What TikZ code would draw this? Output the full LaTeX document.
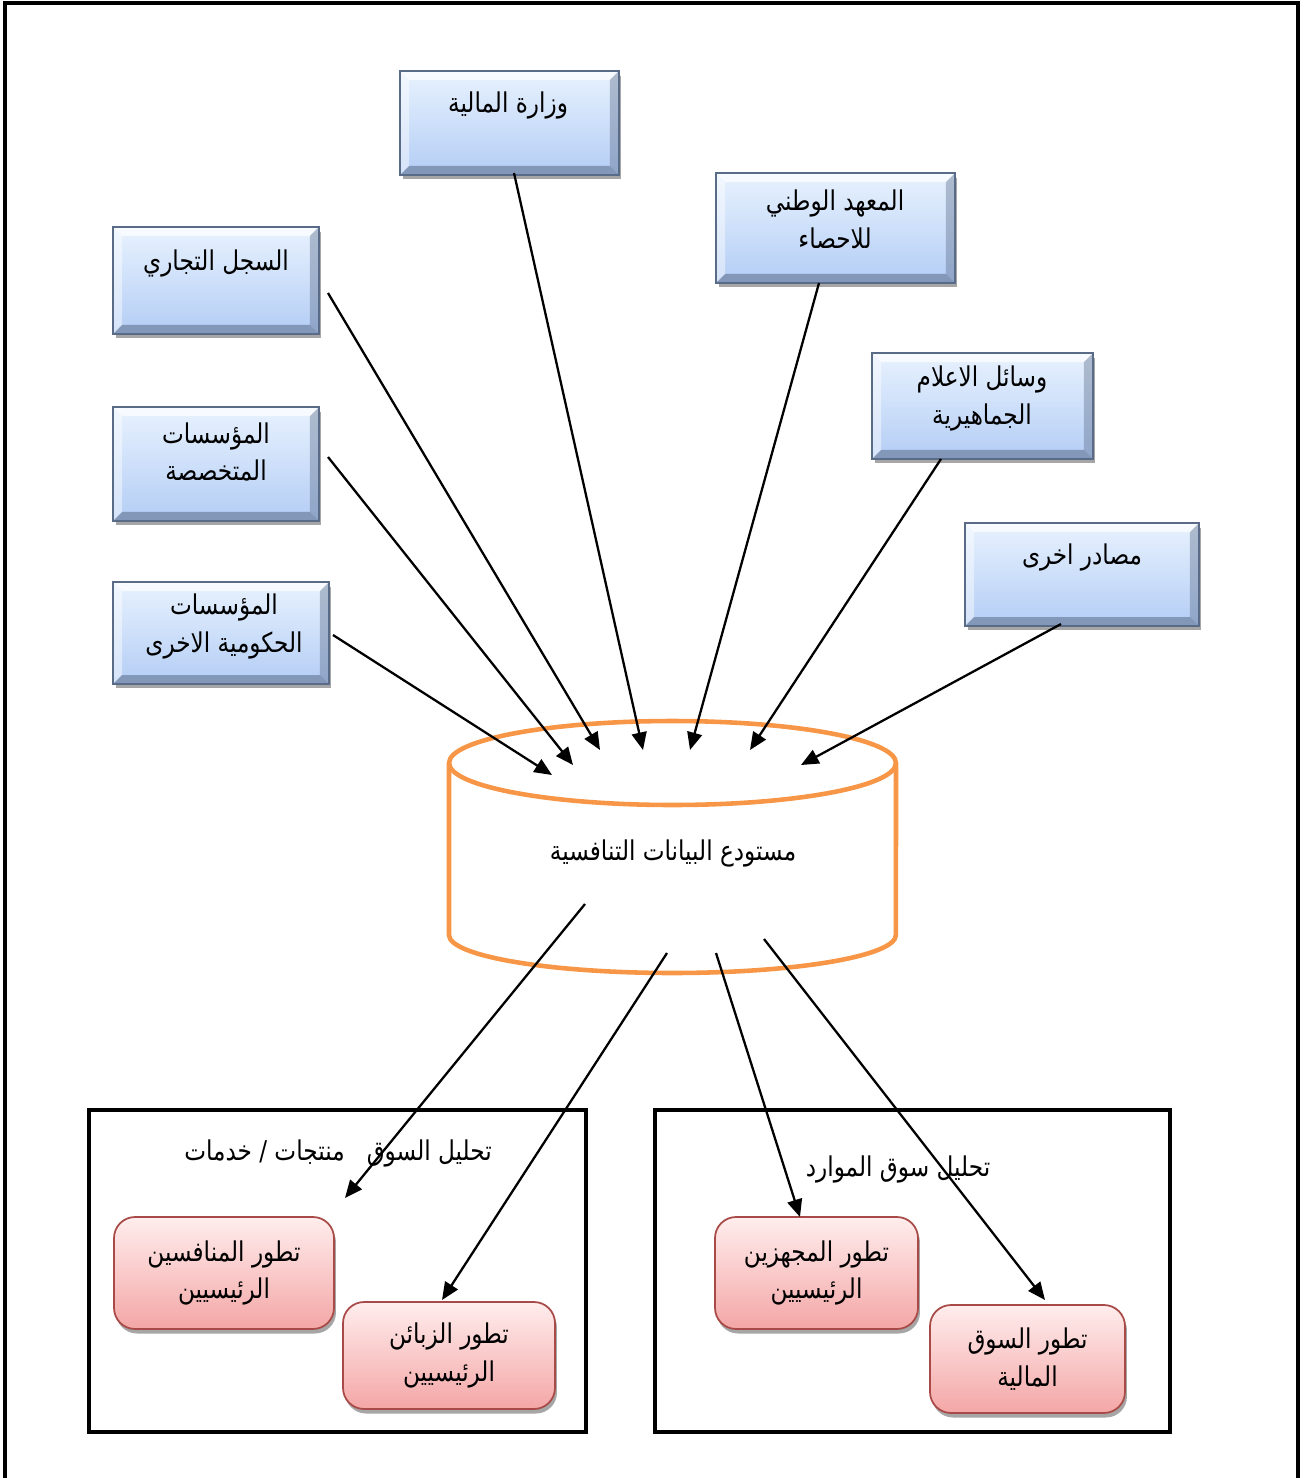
\documentclass[tikz,border=0pt]{standalone}
\usepackage{fontspec}
\newfontfamily\arabicfont[Script=Arabic, FakeStretch=0.85]{DejaVu Sans}
\TeXXeTstate=1
\usetikzlibrary{arrows.meta,shadows}
\definecolor{bluetop}{HTML}{E8F2FE}
\definecolor{bluebot}{HTML}{B3CDF5}
\definecolor{blueedge}{HTML}{5A6B88}
\definecolor{pinktop}{HTML}{FFEDED}
\definecolor{pinkbot}{HTML}{F4A6A6}
\definecolor{pinkedge}{HTML}{A84B48}
\definecolor{drumorange}{HTML}{F79646}
\newcommand\rtltext[1]{\beginR #1\endR}
\tikzset{
  x=0.02cm, y=-0.02cm,
  arfont/.style={font=\arabicfont\fontsize{15.5}{21.5}\selectfont},
  txt/.style={arfont, align=center, inner sep=0pt},
  bevelbox/.style={rectangle, draw=blueedge, line width=0.8pt,
    top color=bluetop, bottom color=bluebot,
    drop shadow={shadow xshift=0.5mm, shadow yshift=-0.9mm, opacity=0.35, fill=black},
    path picture={
      \fill[white, fill opacity=0.7] (path picture bounding box.north west) -- (path picture bounding box.north east)
        -- ([shift={(-0.18cm,-0.18cm)}]path picture bounding box.north east)
        -- ([shift={(0.18cm,-0.18cm)}]path picture bounding box.north west) -- cycle;
      \fill[white, fill opacity=0.45] (path picture bounding box.north west) -- (path picture bounding box.south west)
        -- ([shift={(0.18cm,0.18cm)}]path picture bounding box.south west)
        -- ([shift={(0.18cm,-0.18cm)}]path picture bounding box.north west) -- cycle;
      \fill[blueedge, fill opacity=0.4] (path picture bounding box.north east) -- (path picture bounding box.south east)
        -- ([shift={(-0.18cm,0.18cm)}]path picture bounding box.south east)
        -- ([shift={(-0.18cm,-0.18cm)}]path picture bounding box.north east) -- cycle;
      \fill[blueedge, fill opacity=0.55] (path picture bounding box.south west) -- (path picture bounding box.south east)
        -- ([shift={(-0.18cm,0.18cm)}]path picture bounding box.south east)
        -- ([shift={(0.18cm,0.18cm)}]path picture bounding box.south west) -- cycle;
    }},
  pinkbox/.style={rectangle, rounded corners=0.42cm, draw=pinkedge, line width=1pt,
    top color=pinktop, bottom color=pinkbot, arfont, align=center,
    drop shadow={shadow xshift=0.4mm, shadow yshift=-0.9mm, opacity=0.35, fill=black}},
  frame/.style={rectangle, draw=black, line width=2.6pt, inner sep=0pt},
  drum/.style={draw=drumorange, line width=2.6pt},
  link/.style={-{Triangle[length=10pt,width=8.5pt]}, line width=1.3pt},
}
\begin{document}
\begin{tikzpicture}
\useasboundingbox (0,0) rectangle (1304,1478);

% page border, open at the foot
\draw[line width=2.4pt] (5,1478) -- (5,3) -- (1298,3) -- (1298,1478);

% data sources
\node[bevelbox, minimum width=4.38cm, minimum height=2.08cm] (b1) at (509.5,123) {};
\node[txt] (b1t) at (508,105) {\rtltext{وزارة المالية}};
\node[bevelbox, minimum width=4.78cm, minimum height=2.2cm] (b2) at (835.5,228) {};
\node[txt] (b2t) at (835,219) {\rtltext{المعهد الوطني}\\\rtltext{للاحصاء}};
\node[bevelbox, minimum width=4.12cm, minimum height=2.14cm] (b3) at (216,280.5) {};
\node[txt] (b3t) at (216,263) {\rtltext{السجل التجاري}};
\node[bevelbox, minimum width=4.42cm, minimum height=2.12cm] (b4) at (982.5,406) {};
\node[txt] (b4t) at (982,398.5) {\rtltext{وسائل الاعلام}\\\rtltext{الجماهيرية}};
\node[bevelbox, minimum width=4.12cm, minimum height=2.28cm] (b5) at (216,464) {};
\node[txt] (b5t) at (216,452) {\rtltext{المؤسسات}\\\rtltext{المتخصصة}};
\node[bevelbox, minimum width=4.68cm, minimum height=2.06cm] (b6) at (1082,574.5) {};
\node[txt] (b6t) at (1082,557) {\rtltext{مصادر اخرى}};
\node[bevelbox, minimum width=4.32cm, minimum height=2.04cm] (b7) at (221,633) {};
\node[txt] (b7t) at (224,626.5) {\rtltext{المؤسسات}\\\rtltext{الحكومية الاخرى}};

% data warehouse drum
\draw[drum] (449,763) -- (449,935) arc[start angle=180, end angle=360, x radius=4.47cm, y radius=0.76cm] -- (896,763);
\draw[drum] (672.5,763) ellipse [x radius=4.47cm, y radius=0.84cm];
\node[txt] (cyl) at (673,853) {\rtltext{مستودع البيانات التنافسية}};

% analysis frames
\node[frame, minimum width=9.94cm, minimum height=6.44cm] (f1) at (337.5,1271) {};
\node[txt] (f1t) at (338,1153) {\rtltext{تحليل السوق \ \ منتجات / خدمات}};
\node[frame, minimum width=10.3cm, minimum height=6.44cm] (f2) at (912.5,1271) {};
\node[txt] (f2t) at (898,1169) {\rtltext{تحليل سوق الموارد}};

\node[pinkbox, minimum width=4.4cm, minimum height=2.24cm] (p1) at (224,1273) {\rtltext{تطور المنافسين}\\\rtltext{الرئيسيين}};
\node[pinkbox, minimum width=4.24cm, minimum height=2.14cm] (p2) at (449,1355.5) {\rtltext{تطور الزبائن}\\\rtltext{الرئيسيين}};
\node[pinkbox, minimum width=4.06cm, minimum height=2.24cm] (p3) at (816.5,1273) {\rtltext{تطور المجهزين}\\\rtltext{الرئيسيين}};
\node[pinkbox, minimum width=3.9cm, minimum height=2.16cm] (p4) at (1027.5,1359) {\rtltext{تطور السوق}\\\rtltext{المالية}};

% connector end points
\coordinate (s3) at (328,293);   \coordinate (e3) at (600,750);
\coordinate (s1) at (514,173);   \coordinate (e1) at (643,750);
\coordinate (s2) at (819,283);   \coordinate (e2) at (690,750);
\coordinate (s4) at (941,459);   \coordinate (e4) at (750,750);
\coordinate (s6) at (1061,624);  \coordinate (e6) at (801,765);
\coordinate (s5) at (328,457);   \coordinate (e5) at (573,765);
\coordinate (s7) at (333,635);   \coordinate (e7) at (552,775);

\coordinate (o1) at (585,904);   \coordinate (t1) at (345,1198);
\coordinate (o2) at (667,953);   \coordinate (t2) at (442,1300);
\coordinate (o3) at (716,953);   \coordinate (t3) at (800,1217);
\coordinate (o4) at (764,939);   \coordinate (t4) at (1045,1300);

% inflows
\draw[link] (s3) -- (e3);
\draw[link] (s1) -- (e1);
\draw[link] (s2) -- (e2);
\draw[link] (s4) -- (e4);
\draw[link] (s6) -- (e6);
\draw[link] (s5) -- (e5);
\draw[link] (s7) -- (e7);
% outflows
\draw[link] (o1) -- (t1);
\draw[link] (o2) -- (t2);
\draw[link] (o3) -- (t3);
\draw[link] (o4) -- (t4);
\end{tikzpicture}
\end{document}
